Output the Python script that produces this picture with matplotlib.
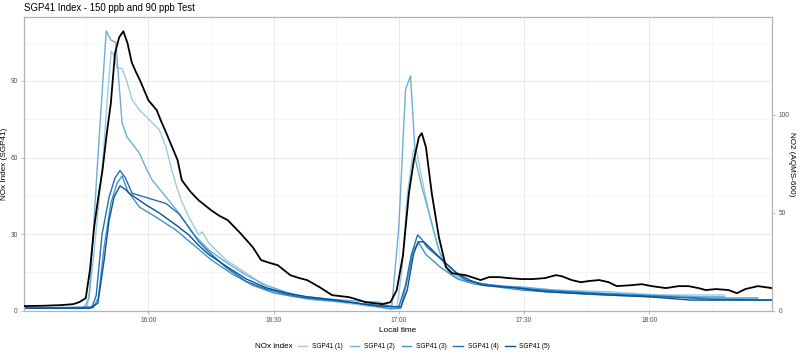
import matplotlib
matplotlib.use("Agg")
import matplotlib.pyplot as plt
import matplotlib.dates as mdates
import pandas as pd

plt.rcParams["font.family"] = ["Liberation Sans", "DejaVu Sans"]

# minutes after 15:30 and readings
t_sgp1 = [0.2, 15.3, 16.5, 18.9, 20.5, 21.1, 21.8, 22.5, 23.7, 24.7, 26.1, 27.8, 30.2, 32.6, 34.2, 35.4,
          36.5, 37.8, 39.7, 41.4, 42.1, 42.9, 44.5, 48.6, 53.4, 58.2, 63, 68, 75, 82, 88, 89.5,
          90.7, 92, 93.5, 94.3, 95.5, 97, 98.5, 100.3, 102, 104, 107, 110, 118, 126, 140, 152, 168]
v_sgp1 = [1.0, 1.2, 15, 55, 90, 101.6, 99.6, 95, 94.8, 90.5, 82.6, 78.7, 74.8, 70.9, 64.2, 56.4,
          50, 43.4, 36.7, 31.6, 29.7, 30.9, 26.5, 19.9, 14.8, 9.3, 6.5, 4.5, 3.5, 2.0, 0.8, 1.0,
          15, 45, 63, 62, 52, 40, 30, 20, 15, 13, 11.5, 10.5, 9.4, 8.2, 7.5, 6.2, 6.2]

t_sgp2 = [0.2, 14.6, 15.8, 16.8, 17.7, 18.9, 19.9, 21, 22.2, 23.7, 24.9, 27.8, 29.7, 30.9, 34.2, 37.3,
          40.5, 44.5, 48.6, 53.4, 58.2, 63, 66.1, 73.3, 80, 85.2, 88.3,
          90, 91.6, 92.8, 94, 95.5, 97.9, 99.6, 101.3, 103.7, 106.1, 109.2, 114, 119, 128, 138, 150, 162, 168]
v_sgp2 = [1.0, 1.2, 5, 30, 55, 85, 109.5, 106, 105, 73.5, 68, 61.8, 55, 51.2, 44.6, 38.3,
          30.5, 23.8, 19, 14, 10, 7.3, 5.8, 4.6, 3.8, 3.4, 1.5,
          32.8, 86.5, 92, 59, 48.5, 34.3, 23.8, 17.1, 14, 12, 10.9, 9.5, 9.4, 8.0, 7.0, 6.2, 5.5, 5.5]

t_sgp3 = [0.2, 16.8, 18, 19.4, 21, 22.5, 23.7, 25, 27.8, 31.8, 36.6, 41.4, 45, 50, 55, 60, 65, 70, 80, 88,
          90.5, 92, 93.5, 94.8, 96.5, 100, 104, 108, 120, 135, 150, 165, 176]
v_sgp3 = [1.0, 1.2, 5, 25, 42, 50, 52.8, 47, 40.7, 36.7, 31.6, 25, 20, 14.5, 10, 7, 5.5, 4.5, 3, 0.8,
          1.0, 12, 24, 26.5, 22, 17, 12.5, 10.5, 8, 6.5, 5.5, 5.0, 5.0]

t_sgp4 = [0.2, 16.5, 17.5, 18.9, 20.6, 22, 23.2, 24.5, 26.1, 30.2, 34.2, 37.3, 40, 42.1, 44.5, 48.6,
          53.4, 58.2, 63, 68, 75, 80, 85, 88,
          90, 91.6, 93, 94.5, 95.5, 96.7, 100.3, 103.7, 106.1, 110, 115, 125, 135, 145, 155, 165, 179.4]
v_sgp4 = [1.0, 1.5, 6, 30, 44.6, 52, 54.9, 52, 46, 44, 42, 38, 32, 27, 23, 17,
          11.5, 8.5, 6.5, 5, 4, 3, 2, 1.8,
          1.5, 10, 22, 29.7, 28, 25, 20, 15, 12, 10.5, 9.5, 8, 7, 6.2, 5.5, 4.5, 4.2]

t_sgp5 = [0.2, 16, 17.9, 19.4, 20.6, 21.8, 23.2, 24.5, 25.4, 29.4, 32.6, 36.6, 39.7, 42.1, 44.5, 48.6,
          53.4, 58.2, 63, 68, 75, 82, 88,
          90.5, 92, 93.5, 94.6, 96, 97.9, 100.3, 103.7, 107, 110, 118, 125, 140, 150, 160, 179.4]
v_sgp5 = [1.0, 1.0, 3, 19.9, 35.6, 44.6, 48.9, 47.5, 46, 41.5, 38.3, 33.6, 29.7, 25.5, 22, 17.5,
          12.5, 9, 7, 5.5, 4.2, 2.5, 1.6,
          1.6, 8, 22, 27, 27, 24, 20, 15, 12, 10, 9, 7.5, 6.2, 5.5, 4.2, 4.2]

t_no2 = [0.2, 5, 9, 12, 13.5, 15, 16, 17, 18, 19, 20, 21, 22, 23, 24, 25, 26, 27, 28, 30, 32, 33, 34, 35,
         37, 38, 40, 42, 45, 47, 49, 52, 55, 57, 59, 61, 64, 66, 68, 71, 74, 76, 78, 80, 82, 86, 88, 89.5,
         91, 92.4, 93.6, 94.8, 95.5, 96.5, 97.9, 99.6, 101.3, 102.7, 106, 109.6, 111.6, 114, 116.4,
         119.5, 122, 125, 127.6, 129, 131.4, 133.6, 135.5, 138, 140.3, 142.2, 145.8, 148.2, 150.6,
         154, 157, 159.4, 161.8, 163.5, 166, 169, 171, 173, 176, 179.4]
v_no2 = [2.4, 2.6, 2.9, 3.4, 4.5, 6.5, 20.8, 42.6, 58, 71.8, 90, 105.9, 131.5, 139.6, 142.7, 136.6,
         126.9, 122, 117.6, 107.5, 102.4, 97, 92.2, 87.1,
         76.9, 66.7, 61, 56.5, 51.4, 48.5, 46.3, 39.7, 32.5, 25.9, 24.5, 23.3, 18.2, 16.8, 15.7,
         12.1, 8, 7.5, 7, 5.8, 4.4, 3.4, 4.4, 10.6,
         28.4, 59.9, 76.9, 88.6, 90.7, 83.5, 59.9, 37.6, 22.3, 19.2, 18.2, 15.7, 17.2, 17.2, 16.7,
         16.2, 16.2, 16.7, 18.2, 17.7, 15.7, 14.6, 15.2, 15.7, 14.6, 12.6, 13.1, 13.6, 12.6,
         11.6, 12.6, 12.6, 11.6, 10.6, 11.1, 10.6, 9.0, 11.1, 12.6, 11.6]

labels = ["SGP41 (1)", "SGP41 (2)", "SGP41 (3)", "SGP41 (4)", "SGP41 (5)"]
colors = ["#9ecae1", "#6baed6", "#4292c6", "#2171b5", "#08519c"]
series = [(t_sgp1, v_sgp1), (t_sgp2, v_sgp2), (t_sgp3, v_sgp3), (t_sgp4, v_sgp4), (t_sgp5, v_sgp5)]

base = pd.Timestamp("2024-01-01 15:30")


def to_time(minutes):
    return base + pd.to_timedelta(minutes, unit="min")


fig = plt.figure(figsize=(8, 3.61), dpi=100)
ax = fig.add_axes([0.03, 0.139, 0.935, 0.814])

for (t, v), lab, col in zip(series, labels, colors):
    ax.plot(to_time(t), v, color=col, lw=1.0, label=lab)

# data spans just inside 15:30-18:30, so no labels at the edges
ax.set_xlim(to_time(0.2), to_time(179.4))
ax.set_ylim(0, 115)
ax.set_yticks([0, 30, 60, 90])
ax.set_yticks([15, 45, 75, 105], minor=True)
ax.xaxis.set_major_locator(mdates.MinuteLocator(byminute=[0, 30]))
ax.xaxis.set_minor_locator(mdates.MinuteLocator(byminute=[15, 45]))
ax.xaxis.set_major_formatter(mdates.DateFormatter("%H:%M"))
ax.grid(which="major", color="#e5e5e5", lw=0.6)
ax.grid(which="minor", color="#f0f0f0", lw=0.4)
ax.set_axisbelow(True)
ax.tick_params(which="major", length=2.5, width=0.6, color="#b3b3b3", labelsize=4.7,
               labelcolor="#4d4d4d", pad=2)
ax.tick_params(which="minor", length=0)
for s in ax.spines.values():
    s.set_color("#b3b3b3")
    s.set_linewidth(0.9)
ax.set_ylabel("NOx Index (SGP41)", fontsize=5.9)
ax.yaxis.set_label_coords(-0.021, 0.5)
ax.set_xlabel("Local time", fontsize=5.9, labelpad=2)

ax2 = ax.twinx()
ax2.plot(to_time(t_no2), v_no2, color="black", lw=1.3)
ax2.set_ylim(0, 150)
ax2.set_yticks([0, 50, 100])
ax2.tick_params(length=2.5, width=0.6, color="#b3b3b3", labelsize=4.7, labelcolor="#4d4d4d", pad=2)
for s in ax2.spines.values():
    s.set_visible(False)
ax2.set_ylabel("NO2 (AQMS-600)", fontsize=5.9, rotation=270, va="center")
ax2.yaxis.set_label_coords(1.026, 0.5)

fig.text(0.03, 0.977, "SGP41 Index - 150 ppb and 90 ppb Test", fontsize=6.9, va="center", ha="left")

fig.text(0.319, 0.039, "NOx index", fontsize=5.9, va="center", ha="left")
handles, labs = ax.get_legend_handles_labels()
fig.legend(handles, labs, loc="center left", bbox_to_anchor=(0.372, 0.039), ncol=5,
           frameon=False, fontsize=4.7, handlelength=1.4, handletextpad=0.75,
           columnspacing=1.1, borderaxespad=0, borderpad=0)

fig.savefig("out.png", dpi=100)
